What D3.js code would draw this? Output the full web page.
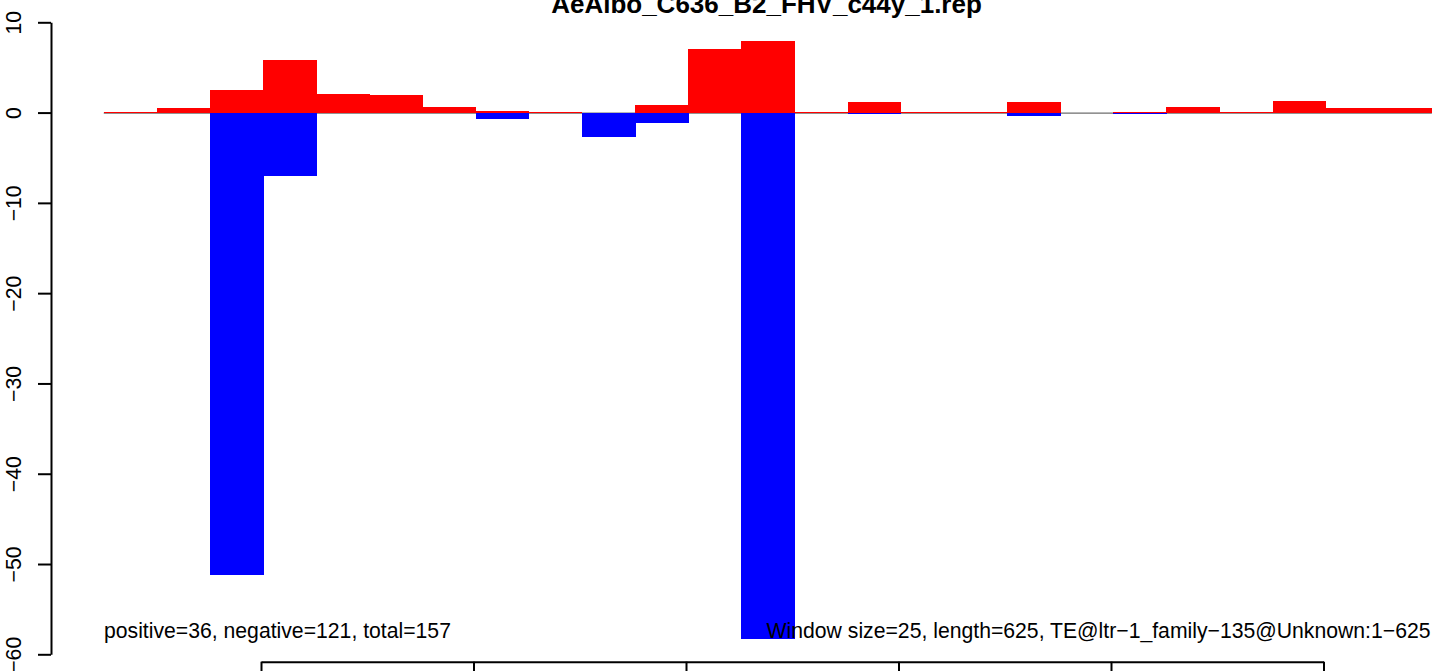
<!DOCTYPE html>
<html>
<head>
<meta charset="utf-8">
<script src="https://cdn.jsdelivr.net/npm/d3@7/dist/d3.min.js"></script>
<style>
  html, body { margin: 0; padding: 0; background: #fff; overflow: hidden; }
  svg { display: block; }
  text { font-family: "Liberation Sans", Arial, Helvetica, sans-serif; fill: #000; }
</style>
</head>
<body>
<svg id="chart" width="1433" height="671"></svg>
<script>
// ---- data ----
const titleText = "AeAlbo_C636_B2_FHV_c44y_1.rep";
const leftNote = "positive=36, negative=121, total=157";
const rightNote = "Window size=25, length=625, TE@ltr\u22121_family\u2212135@Unknown:1\u2212625";

// window start positions (25 windows of size 25)
const binStart = [1, 26, 51, 76, 101, 126, 151, 176, 201, 226, 251, 276, 301,
                  326, 351, 376, 401, 426, 451, 476, 501, 526, 551, 576, 601];
const windowSize = 25;
// positive-strand (red) values per window
const posValues = [0.1, 0.52, 2.47, 5.79, 2.1, 1.92, 0.63, 0.22, 0.12, 0, 0.85, 7.09, 7.9,
                   0.1, 1.12, 0.1, 0.1, 1.22, 0, 0.1, 0.63, 0.1, 1.3, 0.52, 0.52];
// negative-strand (blue) values per window
const negValues = [0, 0, -51.2, -7.05, 0, 0, 0, -0.7, 0, -2.7, -1.14, 0, -58.3,
                   0, -0.15, 0, 0, -0.33, 0, -0.15, 0, 0, 0, 0, 0];

const yTicks = [-60, -50, -40, -30, -20, -10, 0, 10];
const xTicks = [100, 200, 300, 400, 500, 600];

// ---- scales ----
const x = d3.scaleLinear().domain([100, 600]).range([261, 1323.5]);
const y = d3.scaleLinear().domain([-60, 10]).range([654.3, 22.3]);

const svg = d3.select("#chart");
const y0 = y(0);

// baseline
svg.append("line")
  .attr("x1", x(binStart[0] + windowSize)).attr("x2", x(binStart[binStart.length - 1] + 2 * windowSize))
  .attr("y1", y0 + 0.6).attr("y2", y0 + 0.6)
  .attr("stroke", "#6e6e6e").attr("stroke-width", 1.2);

const bins = binStart.map((s, i) => ({ s, pos: posValues[i], neg: negValues[i] }));

// positive bars
svg.append("g").attr("shape-rendering", "crispEdges")
  .selectAll("rect").data(bins.filter(d => d.pos > 0)).join("rect")
  .attr("x", d => x(d.s + windowSize))
  .attr("width", d => x(d.s + 2 * windowSize) - x(d.s + windowSize) + 0.5)
  .attr("y", d => Math.min(y(d.pos), y0 - 1))
  .attr("height", d => Math.max(1, y0 - y(d.pos)))
  .attr("fill", "#ff0000");

// negative bars
svg.append("g").attr("shape-rendering", "crispEdges")
  .selectAll("rect").data(bins.filter(d => d.neg < 0)).join("rect")
  .attr("x", d => x(d.s + windowSize))
  .attr("width", d => x(d.s + 2 * windowSize) - x(d.s + windowSize) + 0.5)
  .attr("y", y0)
  .attr("height", d => Math.max(1, y(d.neg) - y0))
  .attr("fill", "#0000ff");

// y axis
const fmt = d => d < 0 ? "\u2212" + Math.abs(d) : String(d);
const yAxis = svg.append("g")
  .attr("transform", "translate(51,0)")
  .call(d3.axisLeft(y).tickValues(yTicks).tickSize(13).tickSizeOuter(0).tickFormat(fmt));
yAxis.select(".domain").attr("stroke", "#000").attr("stroke-width", 2);
yAxis.selectAll(".tick line").attr("stroke", "#000").attr("stroke-width", 2);
yAxis.selectAll(".tick text")
  .attr("transform", "rotate(-90)")
  .attr("x", 0).attr("y", -30).attr("dy", 0)
  .attr("text-anchor", "middle")
  .style("font-size", "21.2px")
  .style("font-family", "'Liberation Sans', Arial, sans-serif")
  .attr("fill", "#000");

// x axis (labels fall outside the visible area)
const xAxis = svg.append("g")
  .attr("transform", "translate(0,661.7)")
  .call(d3.axisBottom(x).tickValues(xTicks).tickSize(15).tickSizeOuter(0).tickFormat(""));
xAxis.select(".domain").attr("stroke", "#000").attr("stroke-width", 2);
xAxis.selectAll(".tick line").attr("stroke", "#000").attr("stroke-width", 2);

// title
svg.append("text")
  .attr("x", 766.5).attr("y", 13)
  .attr("text-anchor", "middle")
  .style("font-size", "26px").style("font-weight", "bold")
  .text(titleText);

// notes
svg.append("text")
  .attr("x", 104).attr("y", 638.3)
  .attr("text-anchor", "start")
  .style("font-size", "21.2px")
  .text(leftNote);
svg.append("text")
  .attr("x", 1430.5).attr("y", 638.3)
  .attr("text-anchor", "end")
  .style("font-size", "21.2px")
  .text(rightNote);
</script>
</body>
</html>
